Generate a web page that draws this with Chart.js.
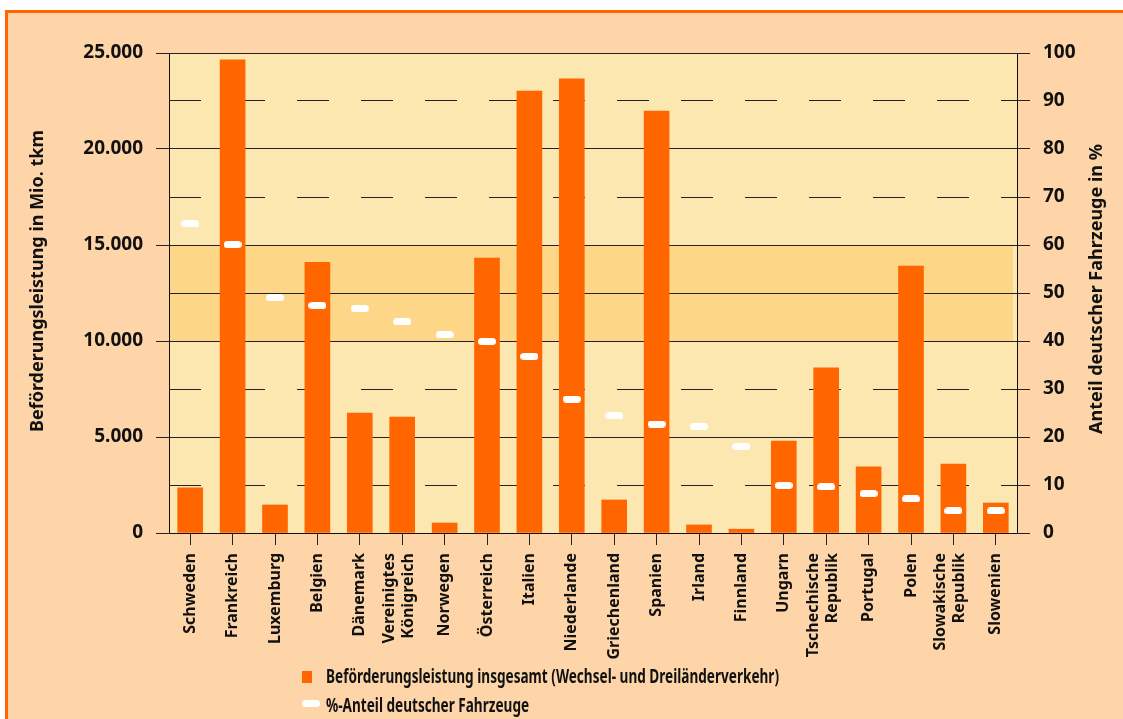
<!DOCTYPE html>
<html lang="de">
<head>
<meta charset="utf-8">
<title>Beförderungsleistung im grenzüberschreitenden Verkehr</title>
<script src="https://cdn.jsdelivr.net/npm/chart.js@4.4.1/dist/chart.umd.min.js"></script>
<style>
    html, body { margin: 0; padding: 0; background: #fff; }
    #wrap { position: relative; width: 1123px; height: 719px; overflow: hidden; }
    #frame {
        position: absolute; left: 5px; top: 10px; right: -10px; bottom: -10px;
        background: #fdd5a8;
        border-top: 3px solid #ff6600;
        border-left: 3px solid #ff6600;
    }
    #chart { position: absolute; left: 0; top: 0; }
    #legend {
        position: absolute; left: 302px; top: 664px;
        font-family: "Noto Sans", "DejaVu Sans", sans-serif;
        font-weight: bold; font-size: 19px; color: #111;
    }
    #legend .row { position: relative; height: 29px; }
    #legend .sw { position: absolute; left: 0; }
    #legend .sw.bar { top: 7px; width: 10px; height: 12px; background: #ff6600; }
    #legend .sw.pct { top: 7px; width: 18px; height: 7px; border-radius: 4px; background: #fff; }
    #legend .txt {
        position: absolute; left: 24px; top: -1px; white-space: nowrap;
        transform: scaleX(0.715); transform-origin: 0 50%;
    }
</style>
</head>
<body>
<div id="wrap">
    <div id="frame"></div>
    <canvas id="chart" width="1123" height="719"></canvas>
    <div id="legend">
        <div class="row"><span class="sw bar"></span><span class="txt" id="lgBar"></span></div>
        <div class="row"><span class="sw pct"></span><span class="txt" id="lgPct"></span></div>
    </div>
</div>
<script>
// Länder (zweizeilige Beschriftungen als Array)
var laender = [
    "Schweden", "Frankreich", "Luxemburg", "Belgien", "Dänemark",
    ["Vereinigtes", "Königreich"], "Norwegen", "Österreich", "Italien", "Niederlande",
    "Griechenland", "Spanien", "Irland", "Finnland", "Ungarn",
    ["Tschechische", "Republik"], "Portugal", "Polen", ["Slowakische", "Republik"], "Slowenien"
];

// Beförderungsleistung insgesamt in Mio. tkm
var leistung = [
    2350, 24650, 1460, 14100, 6250,
    6040, 520, 14320, 23020, 23650,
    1720, 21980, 420, 200, 4790,
    8600, 3440, 13900, 3590, 1560
];

// Anteil deutscher Fahrzeuge in %
var anteil = [
    64.4, 60.1, 49.0, 47.4, 46.8,
    44.0, 41.3, 39.9, 36.8, 27.9,
    24.4, 22.7, 22.1, 18.0, 9.9,
    9.6, 8.2, 7.1, 4.6, 4.6
];

var leistungTicks = [0, 5000, 10000, 15000, 20000, 25000];
var anteilTicks = [0, 10, 20, 30, 40, 50, 60, 70, 80, 90, 100];

var labelBalken = "Beförderungsleistung insgesamt (Wechsel- und Dreiländerverkehr)";
var labelAnteil = "%-Anteil deutscher Fahrzeuge";
var titelLinks = "Beförderungsleistung in Mio. tkm";
var titelRechts = "Anteil deutscher Fahrzeuge in %";

var ORANGE = "#ff6600";
var TEXT = "#111";
var FONT = "'Noto Sans', 'DejaVu Sans', sans-serif";

function tausender(v) {
    return String(v).replace(/\B(?=(\d{3})+(?!\d))/g, ".");
}

// weißer, abgerundeter Strich als Punktsymbol
var strich = document.createElement("canvas");
strich.width = 18;
strich.height = 7;
(function () {
    var c = strich.getContext("2d");
    c.fillStyle = "#ffffff";
    c.beginPath();
    c.roundRect(0, 0, 18, 7, 3.5);
    c.fill();
})();

// Hintergrund der Zeichenfläche mit dunklerem Band 10.000 - 15.000
var plotBackground = {
    id: "plotBackground",
    beforeDraw: function (chart) {
        var ctx = chart.ctx, a = chart.chartArea, y = chart.scales.y;
        ctx.save();
        ctx.fillStyle = "#fde7b1";
        ctx.fillRect(a.left, a.top, a.right - a.left, a.bottom - a.top);
        var y1 = y.getPixelForValue(15000), y2 = y.getPixelForValue(10000);
        ctx.fillStyle = "#fdd688";
        ctx.fillRect(a.left, y1, a.right - a.left - 4, y2 - y1);
        ctx.restore();
    }
};

// Achsentitel (beide von unten nach oben) und senkrechte Länderbeschriftung
var axisText = {
    id: "axisText",
    afterDraw: function (chart) {
        var ctx = chart.ctx, a = chart.chartArea, x = chart.scales.x;
        ctx.save();
        ctx.fillStyle = TEXT;
        ctx.textAlign = "center";
        ctx.textBaseline = "middle";
        ctx.font = "bold 18px " + FONT;

        ctx.save();
        ctx.translate(38, (a.top + a.bottom) / 2 - 12);
        ctx.rotate(-Math.PI / 2);
        ctx.fillText(titelLinks, 0, 0);
        ctx.restore();

        ctx.save();
        ctx.translate(1097, (a.top + a.bottom) / 2 - 4);
        ctx.rotate(-Math.PI / 2);
        ctx.fillText(titelRechts, 0, 0);
        ctx.restore();

        ctx.font = "bold 16px " + FONT;
        ctx.textAlign = "right";
        var top = a.bottom + 20, lh = 19;
        chart.data.labels.forEach(function (lbl, i) {
            var lines = Array.isArray(lbl) ? lbl : [lbl];
            var px = x.getPixelForTick(i);
            lines.forEach(function (line, j) {
                var cx = px + (j - (lines.length - 1) / 2) * lh - (lines.length > 1 ? 3 : 0);
                ctx.save();
                ctx.translate(cx, top);
                ctx.rotate(-Math.PI / 2);
                ctx.fillText(line, 0, 0);
                ctx.restore();
            });
        });
        ctx.restore();
    }
};

document.getElementById("lgBar").textContent = labelBalken;
document.getElementById("lgPct").textContent = labelAnteil;

var chart = new Chart(document.getElementById("chart").getContext("2d"), {
    type: "bar",
    data: {
        labels: laender,
        datasets: [
            {
                type: "line",
                label: labelAnteil,
                data: anteil,
                yAxisID: "y1",
                showLine: false,
                pointStyle: strich,
                order: 0
            },
            {
                label: labelBalken,
                data: leistung,
                yAxisID: "y",
                backgroundColor: ORANGE,
                borderWidth: 0,
                barThickness: 25,
                order: 1
            }
        ]
    },
    options: {
        responsive: false,
        animation: false,
        layout: { padding: { top: 53, left: 0, right: 0, bottom: 0 } },
        plugins: {
            legend: { display: false },
            tooltip: { enabled: false }
        },
        scales: {
            x: {
                offset: true,
                grid: { offset: false, drawOnChartArea: false, tickLength: 12, tickColor: "#222" },
                border: { display: true, color: TEXT },
                ticks: { display: false },
                afterFit: function (s) { s.height = 186; }
            },
            y: {
                position: "left",
                min: 0, max: 25000,
                afterBuildTicks: function (s) {
                    s.ticks = leistungTicks.map(function (v) { return { value: v }; });
                },
                grid: { drawOnChartArea: false, tickLength: 13, tickColor: "#222" },
                border: { display: true, color: TEXT },
                ticks: {
                    padding: 13, color: TEXT,
                    font: { family: FONT, size: 19, weight: "bold" },
                    callback: function (v) { return tausender(v); }
                },
                afterFit: function (s) { s.width = 169; }
            },
            y1: {
                position: "right",
                min: 0, max: 100,
                afterBuildTicks: function (s) {
                    s.ticks = anteilTicks.map(function (v) { return { value: v }; });
                },
                grid: {
                    drawOnChartArea: true, color: "#222", lineWidth: 1,
                    tickLength: 13, tickColor: "#222"
                },
                border: {
                    display: true, color: TEXT,
                    // Zwischenlinien gestrichelt, Linie bei 50 durchgezogen
                    dash: function (ctx) {
                        if (!ctx.tick) return [];
                        var v = ctx.tick.value;
                        return (v % 20 === 10 && v !== 50) ? [32, 32] : [];
                    }
                },
                ticks: {
                    padding: 13, color: TEXT,
                    font: { family: FONT, size: 19, weight: "bold" }
                },
                afterFit: function (s) { s.width = 106; }
            }
        }
    },
    plugins: [plotBackground, axisText]
});
</script>
</body>
</html>
